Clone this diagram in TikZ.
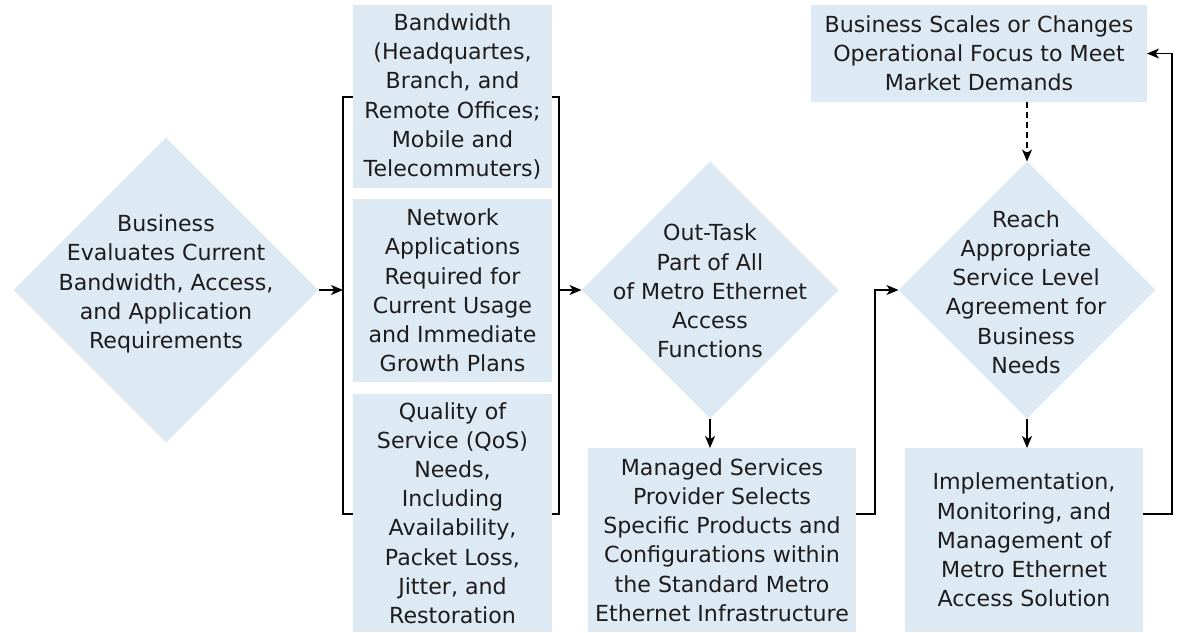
\documentclass[tikz,border=0pt]{standalone}
\usepackage{fontspec}
\setmainfont{DejaVu Sans}
\usepackage{tikz}
\usetikzlibrary{shapes.geometric, arrows.meta, positioning}
\usepackage{color}

\definecolor{paleblue}{RGB}{221,234,244}
\definecolor{ink}{RGB}{30,28,29}
\newcommand{\boxfont}{\fontsize{16.6pt}{21.9pt}\selectfont}

\begin{document}
\begin{tikzpicture}[x=0.75pt,y=-0.75pt,>={Stealth[length=9pt,width=7.5pt,inset=2.5pt]}]
    \tikzstyle{decision}=[shape=diamond,fill=paleblue,inner sep=0pt,outer sep=0pt]
    \tikzstyle{task}=[shape=rectangle,fill=paleblue,inner sep=0pt,outer sep=0pt,align=center,text=ink,font=\boxfont]
    \tikzstyle{words}=[align=center,text=ink,font=\boxfont,inner sep=0pt]
    \tikzstyle{flow}=[->,line width=1.1pt]

    \useasboundingbox (0,0) rectangle (1177,632);

    % bracket round the requirement boxes
    \coordinate (brTL) at (353,97);
    \coordinate (brBL) at (353,514);
    \coordinate (brTR) at (552,97);
    \coordinate (brBR) at (552,514);
    \coordinate (brL) at (343,290);
    \coordinate (brR) at (559,290);
    \draw[line width=1.1pt] (brTL) -- (brL |- brTL) -- (brL |- brBL) -- (brBL);
    \draw[line width=1.1pt] (brTR) -- (brR |- brTR) -- (brR |- brBR) -- (brBR);

    \node[decision,minimum width=228.75pt,minimum height=228.75pt] (eval) at (166,290) {};
    \node[words] (eval-t) at (166,284) {Business\\Evaluates Current\\Bandwidth, Access,\\and Application\\Requirements};

    \node[task,minimum width=149.25pt,minimum height=137.25pt] (bw) at (452.5,96.5)
        {Bandwidth\\(Headquartes,\\Branch, and\\Remote Offices;\\Mobile and\\Telecommuters)};
    \node[task,minimum width=149.25pt,minimum height=137.25pt] (apps) at (452.5,290.5)
        {Network\\Applications\\Required for\\Current Usage\\and Immediate\\Growth Plans};
    \node[task,minimum width=149.25pt,minimum height=178.5pt] (qos) at (452.5,513)
        {Quality of\\Service (QoS)\\Needs,\\Including\\Availability,\\Packet Loss,\\Jitter, and\\Restoration};

    \node[decision,minimum width=192.75pt,minimum height=192.75pt] (outtask) at (710,290) {};
    \node[words] (outtask-t) at (710,291) {Out-Task\\Part of All\\of Metro Ethernet\\Access\\Functions};

    \node[task,minimum width=201pt,minimum height=138pt] (mgd) at (722,540)
        {Managed Services\\Provider Selects\\Specific Products and\\Configurations within\\the Standard Metro\\Ethernet Infrastructure};

    \node[decision,minimum width=192.75pt,minimum height=192.75pt] (reach) at (1027,290) {};
    \node[words] (reach-t) at (1026,292) {Reach\\Appropriate\\Service Level\\Agreement for\\Business\\Needs};

    \node[task,minimum width=178.5pt,minimum height=138pt] (impl) at (1024,540)
        {Implementation,\\Monitoring, and\\Management of\\Metro Ethernet\\Access Solution};

    \node[task,minimum width=252pt,minimum height=72.75pt] (scale) at (979,53.5)
        {Business Scales or Changes\\Operational Focus to Meet\\Market Demands};

    \path[flow]
    (eval) edge (brL)
    (brR) edge (outtask)
    (outtask.south) edge (outtask.south |- mgd.north)
    (reach.south) edge (reach.south |- impl.north)
    ;

    \draw[flow] ([yshift=19.5pt]mgd.east) -- ++(19,0) |- (reach.west);
    \draw[flow] ([yshift=19.5pt]impl.east) -- ++(29,0) |- (scale.east);
    \draw[flow,dash pattern=on 4.5pt off 3pt] (reach.north |- scale.south) -- (reach.north);

\end{tikzpicture}
\end{document}
